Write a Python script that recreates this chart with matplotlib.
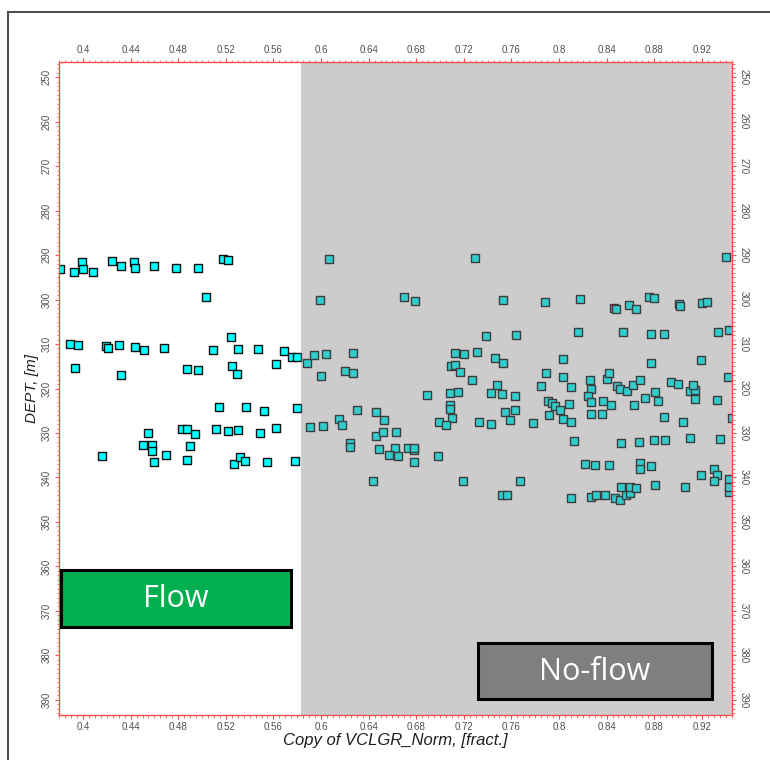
import matplotlib
matplotlib.use('Agg')
import matplotlib.pyplot as plt
from matplotlib.patches import Rectangle
from matplotlib.lines import Line2D
from matplotlib.ticker import MultipleLocator

# crossplot points: VCLGR_Norm (fract.) vs depth (m)
vclgr = [
    0.381, 0.392, 0.399, 0.400, 0.408, 0.424, 0.432, 0.443, 0.444, 0.460, 0.478, 0.497, 0.518, 0.522, 0.503,
    0.389, 0.396, 0.393, 0.419, 0.421, 0.430, 0.444, 0.451, 0.468, 0.432, 0.509, 0.524, 0.530, 0.547, 0.569,
    0.576, 0.580, 0.487, 0.497, 0.525, 0.529, 0.562,
    0.514, 0.537, 0.552, 0.580,
    0.455, 0.450, 0.458, 0.458, 0.460, 0.470, 0.416, 0.483, 0.487, 0.494, 0.490, 0.487, 0.512, 0.522, 0.530,
    0.549, 0.562, 0.527, 0.532, 0.536, 0.555, 0.578,
    0.607, 0.729, 0.599, 0.670, 0.679, 0.753, 0.739, 0.764,
    0.588, 0.594, 0.604, 0.627, 0.600, 0.620, 0.627,
    0.713, 0.720, 0.731, 0.709, 0.713, 0.717, 0.727, 0.746, 0.753, 0.748, 0.743, 0.752, 0.763, 0.689, 0.708,
    0.715, 0.708, 0.708, 0.710, 0.699, 0.705, 0.733, 0.743, 0.755, 0.763, 0.759,
    0.591, 0.602, 0.615, 0.618, 0.630, 0.646, 0.653, 0.624, 0.624, 0.646, 0.652, 0.663, 0.649, 0.662, 0.673,
    0.678, 0.678, 0.657, 0.665, 0.678, 0.698, 0.644, 0.719, 0.752, 0.756, 0.767,
    0.940, 0.788, 0.818, 0.846, 0.848, 0.859, 0.865, 0.876, 0.880, 0.901, 0.902, 0.920, 0.924,
    0.816, 0.854, 0.877, 0.888, 0.934, 0.943,
    0.803, 0.877, 0.919, 0.789, 0.803, 0.785, 0.810, 0.826, 0.827, 0.824, 0.827, 0.827,
    0.840, 0.842, 0.849, 0.851, 0.857, 0.862, 0.868, 0.837, 0.844, 0.836, 0.863, 0.872, 0.881, 0.883, 0.894,
    0.900, 0.910, 0.914, 0.913, 0.914, 0.888, 0.904, 0.933, 0.942, 0.945,
    0.778, 0.791, 0.794, 0.797, 0.801, 0.792, 0.803, 0.810, 0.808,
    0.813, 0.852, 0.867, 0.880, 0.889, 0.910, 0.935,
    0.822, 0.830, 0.842, 0.868, 0.868, 0.877, 0.919, 0.930, 0.933, 0.930, 0.943, 0.943, 0.943,
    0.810, 0.827, 0.831, 0.839, 0.847, 0.851, 0.856, 0.860, 0.852, 0.860, 0.865, 0.881, 0.906,
]
dept = [
    293.2, 293.7, 291.6, 293.2, 293.8, 291.3, 292.4, 291.5, 293.0, 292.5, 293.0, 292.8, 290.9, 291.0, 299.4,
    310.0, 310.2, 315.5, 310.4, 310.8, 310.2, 310.6, 311.4, 310.8, 317.0, 311.4, 308.4, 311.2, 311.1, 311.6,
    313.0, 313.0, 315.6, 315.8, 314.9, 316.8, 314.5,
    324.1, 324.1, 325.1, 324.3,
    330.1, 332.8, 332.6, 334.0, 336.6, 334.9, 335.1, 329.2, 329.1, 330.3, 332.9, 336.1, 329.1, 329.6, 329.4,
    329.9, 328.8, 336.9, 335.5, 336.2, 336.5, 336.3,
    290.8, 290.6, 300.2, 299.4, 300.3, 300.1, 308.1, 308.0,
    314.3, 312.4, 312.2, 312.1, 317.1, 316.0, 316.6,
    312.0, 312.2, 311.8, 314.9, 314.8, 316.4, 318.1, 313.1, 314.2, 319.2, 321.0, 321.3, 321.6, 321.4, 321.1,
    320.8, 323.6, 324.5, 326.6, 327.6, 328.1, 327.6, 327.9, 325.3, 324.8, 327.1,
    328.6, 328.4, 326.8, 328.3, 324.9, 325.2, 327.1, 332.3, 333.1, 330.6, 329.8, 329.8, 333.6, 333.4, 333.3,
    333.9, 333.3, 335.0, 335.2, 336.6, 335.1, 340.9, 340.8, 344.0, 344.0, 340.7,
    290.4, 300.5, 299.9, 302.0, 302.2, 301.3, 302.1, 299.5, 299.7, 301.1, 301.4, 300.7, 300.6,
    307.3, 307.2, 307.8, 307.8, 307.2, 306.8,
    313.4, 314.2, 313.6, 316.6, 317.4, 319.4, 319.6, 318.1, 320.2, 321.6, 323.1, 325.7,
    317.9, 316.6, 319.4, 320.2, 320.6, 319.3, 318.2, 322.9, 323.6, 325.7, 323.8, 322.1, 320.7, 322.7, 318.5,
    318.9, 320.5, 320.3, 319.2, 322.4, 326.3, 327.6, 322.6, 317.4, 326.6,
    327.8, 322.9, 323.3, 323.9, 324.8, 325.9, 326.8, 327.5, 323.5,
    331.8, 332.3, 332.0, 331.6, 331.5, 331.2, 331.3,
    336.9, 337.1, 337.3, 336.7, 338.1, 337.4, 339.5, 338.1, 339.4, 340.7, 340.3, 343.3, 342.2,
    344.6, 344.4, 344.0, 343.9, 344.7, 345.0, 344.0, 343.6, 342.2, 342.1, 342.4, 341.7, 342.1,
]

x_ticks = [0.4, 0.44, 0.48, 0.52, 0.56, 0.6, 0.64, 0.68, 0.72, 0.76, 0.8, 0.84, 0.88, 0.92]
x_ticklabels = ['0.4', '0.44', '0.48', '0.52', '0.56', '0.6', '0.64', '0.68',
                '0.72', '0.76', '0.8', '0.84', '0.88', '0.92']

x_min, x_max = 0.3798, 0.9454
y_top, y_bot = 246.6, 393.4
cutoff = 0.583

fig = plt.figure(figsize=(7.7, 7.6), dpi=100)
ax = fig.add_axes([59 / 770, 1 - 715 / 760, 673 / 770, 653 / 760])

ax.scatter(vclgr, dept, marker='s', s=30, c='#00ffff', edgecolors='#101010',
           linewidths=1.0, zorder=3)
# translucent grey shade over the no-flow side
ax.axvspan(cutoff, x_max, color='#808080', alpha=0.4, lw=0, zorder=4)

ax.set_xlim(x_min, x_max)
ax.set_ylim(y_bot, y_top)

red = '#ff5050'
for s in ax.spines.values():
    s.set_color(red)
    s.set_linewidth(1.0)
    s.set_zorder(6)

ax.set_xticks(x_ticks)
ax.set_xticklabels(x_ticklabels)
ax.xaxis.set_minor_locator(MultipleLocator(0.005))
ax.yaxis.set_major_locator(MultipleLocator(10))
ax.yaxis.set_minor_locator(MultipleLocator(1))

ax.tick_params(which='both', direction='out', color=red, top=True, right=True,
               labeltop=True, labelright=True, labelsize=7, labelcolor='#505050',
               pad=2)
ax.tick_params(which='major', length=3, width=0.8)
ax.tick_params(which='minor', length=1.8, width=0.6)
for t in ax.yaxis.get_major_ticks():
    t.label1.set_rotation(90)
    t.label1.set_verticalalignment('center')
    t.label2.set_rotation(270)
    t.label2.set_verticalalignment('center')
for t in ax.get_xticklabels() + ax.get_yticklabels():
    t.set_family('Liberation Sans')

ax.set_xlabel('Copy of VCLGR_Norm, [fract.]', fontsize=12, style='italic',
              family='Liberation Sans', color='#202020', labelpad=1)
ax.set_ylabel('DEPT, [m]', fontsize=11, style='italic',
              family='Liberation Sans', color='#202020', labelpad=2)

# annotation boxes
fig.add_artist(Rectangle((61 / 770, 1 - 627 / 760), 230 / 770, 57 / 760,
                         transform=fig.transFigure, facecolor='#00b050',
                         edgecolor='black', lw=2.2, zorder=10))
fig.text(176 / 770, 1 - 599 / 760, 'Flow', color='white', fontsize=22,
         family='Open Sans', ha='center', va='center', zorder=11)
fig.add_artist(Rectangle((478 / 770, 1 - 699 / 760), 234 / 770, 56 / 760,
                         transform=fig.transFigure, facecolor='#7f7f7f',
                         edgecolor='black', lw=2.2, zorder=10))
fig.text(595 / 770, 1 - 672 / 760, 'No-flow', color='white', fontsize=22,
         family='Open Sans', ha='center', va='center', zorder=11)

# outer window frame
fig.add_artist(Line2D([8 / 770, 1.0], [1 - 11.5 / 760, 1 - 11.5 / 760],
                      transform=fig.transFigure, color='#505050', lw=1.5))
fig.add_artist(Line2D([8 / 770, 8 / 770], [0.0, 1 - 11.5 / 760],
                      transform=fig.transFigure, color='#505050', lw=1.5))

fig.savefig('out.png', dpi=100)
